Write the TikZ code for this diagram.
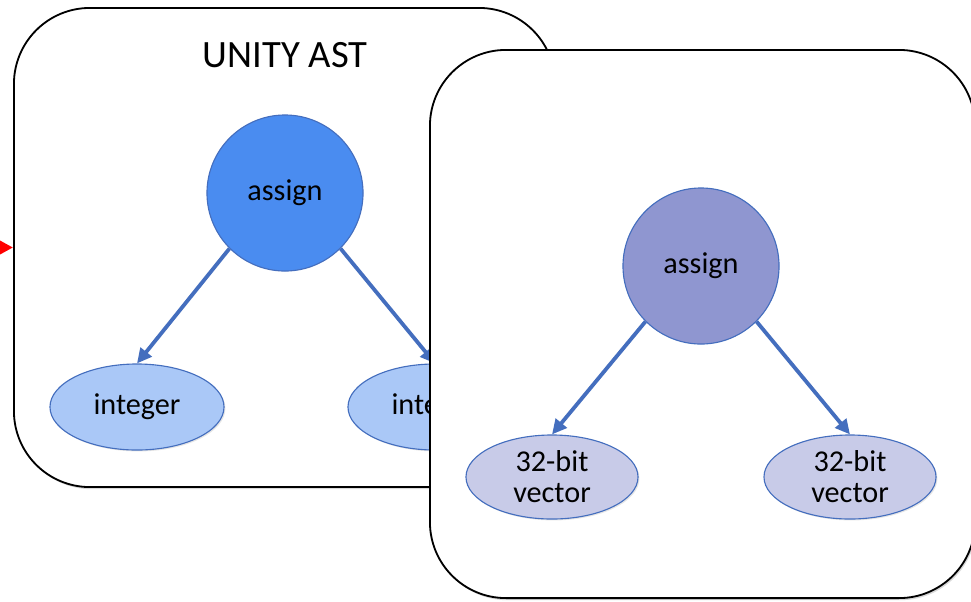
\documentclass[tikz,border=0pt]{standalone}
\usepackage{fontspec}
\setmainfont{Carlito}
\usetikzlibrary{arrows.meta,shadows,shapes.geometric}

\definecolor{unityblue}{RGB}{74,140,240}
\definecolor{unitylight}{RGB}{170,200,247}
\definecolor{vecpurple}{RGB}{143,150,208}
\definecolor{veclight}{RGB}{200,203,232}
\definecolor{edgeblue}{RGB}{68,110,190}

\begin{document}
\begin{tikzpicture}[
		x=0.025cm, y=-0.025cm,
		frame/.style={draw, line width=1.3pt, fill=white, rounded corners=1.9cm,
			drop shadow={shadow xshift=1pt, shadow yshift=-1.5pt, opacity=0.3}},
		opnode/.style={circle, draw=edgeblue, line width=0.8pt, minimum size=3.9cm,
			font=\fontsize{21.5}{22}\selectfont},
		leaf/.style={ellipse, draw=edgeblue, line width=0.8pt, minimum width=4.35cm,
			minimum height=2.15cm, align=center, inner sep=0pt,
			font=\fontsize{21.5}{22}\selectfont,
			drop shadow={shadow xshift=1pt, shadow yshift=-1pt, opacity=0.2}},
		link/.style={draw=edgeblue, line width=2.7pt, -{Triangle[length=10.5pt,width=10pt]}}
		]
		\useasboundingbox (0,0) rectangle (971,601);
		\clip (0,0) rectangle (971,601);
		% unity side
		\node[frame, minimum width=13.525cm, minimum height=11.975cm] (lbox) at (284.5,247.5) {};
		\node[font=\fontsize{27.5}{30}\selectfont] (ltitle) at (285,55) {UNITY AST};
		\node[opnode, fill=unityblue] (lassign) at (285,193) {assign};
		\node[leaf, fill=unitylight] (lint) at (137,407) {integer};
		\node[leaf, fill=unitylight] (lint2) at (435,407) {integer};
		\draw[link] (lassign.south west) -- (lint.north);
		\draw[link] (lassign.south east) -- (lint2.north);
		% incoming
		\coordinate (src) at (0,247.5);
		\draw[red, line width=2.5pt, -{Triangle[length=10pt,width=10pt]}] (src) -- (lbox.west);
		% vector side
		\node[frame, minimum width=13.625cm, minimum height=13.7cm] (rbox) at (702.5,324) {};
		\node[opnode, fill=vecpurple] (rassign) at (701,266) {assign};
		\node[leaf, fill=veclight, minimum width=4.3cm, minimum height=2.1cm] (rvec) at (552,477) {32-bit\\vector};
		\node[leaf, fill=veclight, minimum width=4.3cm, minimum height=2.1cm] (rvec2) at (850,477) {32-bit\\vector};
		\draw[link] (rassign.south west) -- (rvec.north);
		\draw[link] (rassign.south east) -- (rvec2.north);
\end{tikzpicture}
\end{document}
